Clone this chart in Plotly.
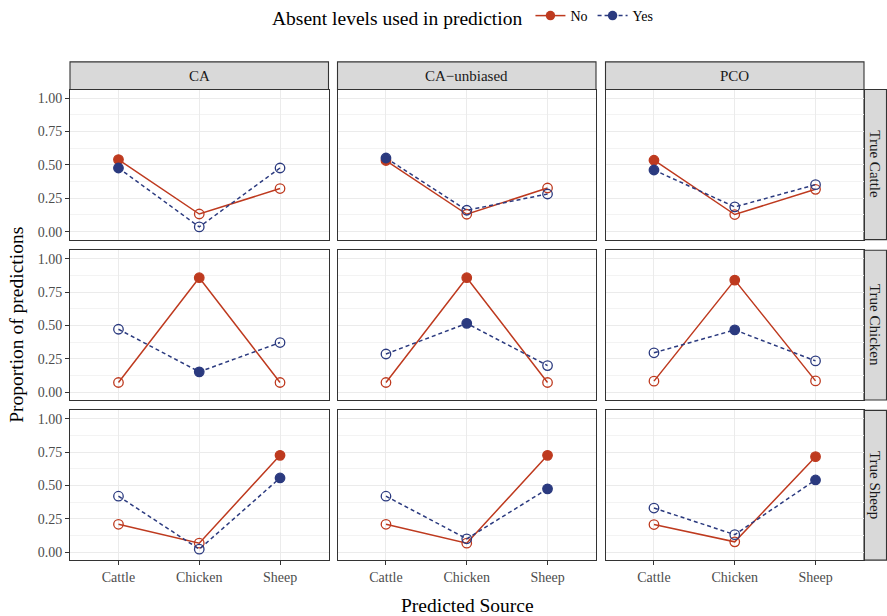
import plotly.graph_objects as go

# ---------------- data ----------------
methods = ["CA", "CA\u2212unbiased", "PCO"]
true_sources = ["True Cattle", "True Chicken", "True Sheep"]
predicted = ["Cattle", "Chicken", "Sheep"]
series_names = ["No", "Yes"]

# values[method][series][true_source] -> list over predicted
no_CA = {"Cattle": [0.540, 0.132, 0.323],
         "Chicken": [0.072, 0.859, 0.072],
         "Sheep": [0.209, 0.067, 0.727]}
yes_CA = {"Cattle": [0.477, 0.035, 0.477],
          "Chicken": [0.472, 0.152, 0.372],
          "Sheep": [0.420, 0.022, 0.557]}
no_CAu = {"Cattle": [0.533, 0.130, 0.327],
          "Chicken": [0.072, 0.859, 0.072],
          "Sheep": [0.209, 0.067, 0.727]}
yes_CAu = {"Cattle": [0.552, 0.160, 0.282],
           "Chicken": [0.286, 0.516, 0.199],
           "Sheep": [0.420, 0.100, 0.475]}
no_PCO = {"Cattle": [0.535, 0.128, 0.317],
          "Chicken": [0.082, 0.841, 0.084],
          "Sheep": [0.207, 0.077, 0.717]}
yes_PCO = {"Cattle": [0.462, 0.185, 0.352],
           "Chicken": [0.295, 0.467, 0.234],
           "Sheep": [0.331, 0.131, 0.542]}

data = {
    "CA": {"No": no_CA, "Yes": yes_CA},
    "CA\u2212unbiased": {"No": no_CAu, "Yes": yes_CAu},
    "PCO": {"No": no_PCO, "Yes": yes_PCO},
}

y_ticks = [0, 0.25, 0.5, 0.75, 1.0]
y_ticklabels = ["0.00", "0.25", "0.50", "0.75", "1.00"]

# ---------------- style ----------------
W, H = 887, 616
FONT = "Liberation Serif"
colors = {"No": "#BE3A1F", "Yes": "#2B3A7F"}
dashes = {"No": "solid", "Yes": "4px,3px"}

col_px = [(70, 328.5), (337.5, 596), (605.5, 864)]
row_px = [(88.7, 239), (249.7, 399.7), (410, 560)]
strip_top = 61
strip_right = 886.5

TICK_SIZE = 14
STRIP_SIZE = 15
TITLE_SIZE = 19.5


def fx(px):
    return px / W


def fy(py):
    return 1 - py / H


fig = go.Figure()

shapes = []
annotations = []

for r, ts in enumerate(true_sources):
    ts_key = ts.replace("True ", "")
    for c, m in enumerate(methods):
        idx = r * 3 + c + 1
        xa = "x" if idx == 1 else f"x{idx}"
        ya = "y" if idx == 1 else f"y{idx}"
        for s in series_names:
            vals = data[m][s][ts_key]
            symbols = ["circle" if p == ts_key else "circle-open" for p in predicted]
            fig.add_trace(go.Scatter(
                x=predicted, y=vals, xaxis=xa, yaxis=ya,
                mode="lines+markers",
                line=dict(color=colors[s], width=1.5, dash=dashes[s]),
                marker=dict(symbol=symbols, size=9.5, color=colors[s],
                            line=dict(color=colors[s], width=1.3)),
                showlegend=False, hoverinfo="skip",
            ))
        lay_x = "xaxis" if idx == 1 else f"xaxis{idx}"
        lay_y = "yaxis" if idx == 1 else f"yaxis{idx}"
        fig.layout[lay_x] = dict(
            domain=[fx(col_px[c][0]), fx(col_px[c][1])],
            anchor=ya, type="category", categoryorder="array",
            categoryarray=predicted, range=[-0.6, 2.6],
            showgrid=True, gridcolor="#EBEBEB", gridwidth=1.1,
            showline=True, mirror=True, linecolor="#333333", linewidth=1.1,
            zeroline=False,
            ticks="outside" if r == 2 else "", ticklen=4, tickcolor="#333333",
            tickwidth=1, showticklabels=(r == 2),
            tickfont=dict(family=FONT, size=TICK_SIZE, color="#4D4D4D"),
        )
        fig.layout[lay_y] = dict(
            domain=[fy(row_px[r][1]), fy(row_px[r][0])],
            anchor=xa, range=[-0.06, 1.065],
            tickvals=y_ticks, ticktext=y_ticklabels,
            showgrid=True, gridcolor="#EBEBEB", gridwidth=1.1,
            minor=dict(tickvals=[0.125, 0.375, 0.625, 0.875], showgrid=True,
                       gridcolor="#F3F3F3", gridwidth=0.6, ticks=""),
            showline=True, mirror=True, linecolor="#333333", linewidth=1.1,
            zeroline=False,
            ticks="outside" if c == 0 else "", ticklen=4, tickcolor="#333333",
            tickwidth=1, showticklabels=(c == 0),
            tickfont=dict(family=FONT, size=TICK_SIZE, color="#4D4D4D"),
        )

# column strips
for c, m in enumerate(methods):
    shapes.append(dict(type="rect", xref="paper", yref="paper",
                       x0=fx(col_px[c][0]), x1=fx(col_px[c][1]),
                       y0=fy(row_px[0][0]), y1=fy(strip_top),
                       fillcolor="#D9D9D9", line=dict(color="#333333", width=1.1),
                       layer="below"))
    annotations.append(dict(text=m, xref="paper", yref="paper",
                            x=fx((col_px[c][0] + col_px[c][1]) / 2),
                            y=fy((strip_top + row_px[0][0]) / 2),
                            showarrow=False, xanchor="center", yanchor="middle",
                            font=dict(family=FONT, size=STRIP_SIZE, color="#1A1A1A")))
# row strips
for r, ts in enumerate(true_sources):
    shapes.append(dict(type="rect", xref="paper", yref="paper",
                       x0=fx(col_px[2][1]), x1=fx(strip_right),
                       y0=fy(row_px[r][1]), y1=fy(row_px[r][0]),
                       fillcolor="#D9D9D9", line=dict(color="#333333", width=1.1),
                       layer="below"))
    annotations.append(dict(text=ts, xref="paper", yref="paper",
                            x=fx((col_px[2][1] + strip_right) / 2),
                            y=fy((row_px[r][0] + row_px[r][1]) / 2),
                            textangle=90, showarrow=False,
                            xanchor="center", yanchor="middle",
                            font=dict(family=FONT, size=STRIP_SIZE, color="#1A1A1A")))

# axis titles
annotations.append(dict(text="Predicted Source", xref="paper", yref="paper",
                        x=fx((col_px[0][0] + col_px[2][1]) / 2), y=fy(605),
                        showarrow=False, xanchor="center", yanchor="middle",
                        font=dict(family=FONT, size=TITLE_SIZE, color="#000000")))
annotations.append(dict(text="Proportion of predictions", xref="paper", yref="paper",
                        x=fx(17), y=fy((row_px[0][0] + row_px[2][1]) / 2),
                        textangle=-90, showarrow=False,
                        xanchor="center", yanchor="middle",
                        font=dict(family=FONT, size=TITLE_SIZE, color="#000000")))

# legend traces
for s in series_names:
    fig.add_trace(go.Scatter(
        x=[None], y=[None], name=s, mode="lines+markers",
        line=dict(color=colors[s], width=1.5, dash=dashes[s]),
        marker=dict(symbol="circle", size=9.5, color=colors[s]),
        showlegend=True,
    ))

fig.update_layout(
    width=W, height=H,
    margin=dict(l=0, r=0, t=0, b=0),
    paper_bgcolor="white", plot_bgcolor="white",
    shapes=shapes, annotations=annotations,
    legend=dict(orientation="h", x=fx(270), xanchor="left",
                y=fy(17), yanchor="middle",
                title=dict(text="Absent levels used in prediction",
                           font=dict(family=FONT, size=TITLE_SIZE, color="#000000"),
                           side="left"),
                font=dict(family=FONT, size=TICK_SIZE, color="#000000"),
                itemwidth=30, tracegroupgap=0,
                bgcolor="rgba(0,0,0,0)"),
)

fig.write_html(
    "out.html",
    config={"displayModeBar": False},
    post_script="document.body.style.margin='0';document.body.style.overflow='hidden';",
)
